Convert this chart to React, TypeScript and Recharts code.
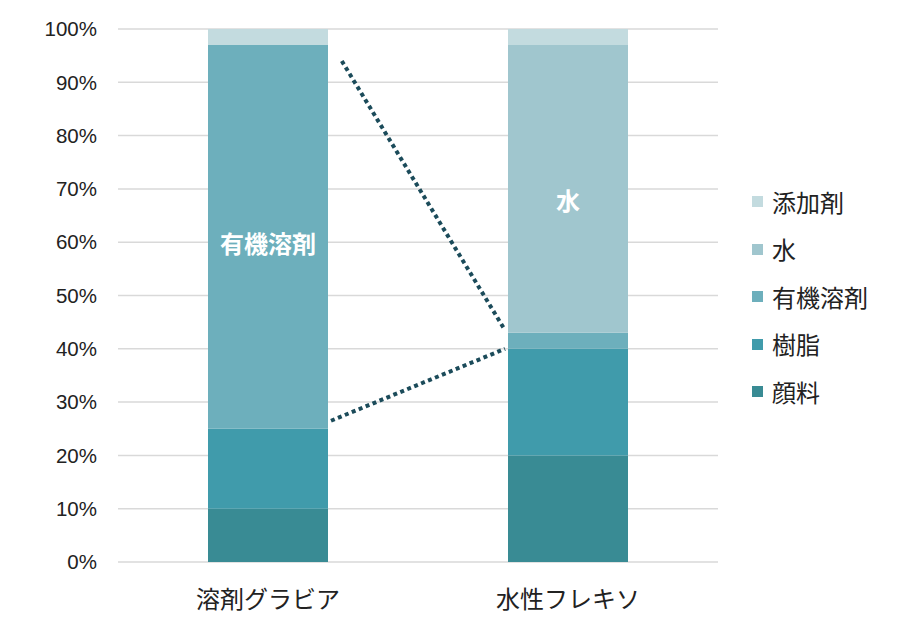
import React from 'react';
import { BarChart, Bar, XAxis, YAxis, CartesianGrid, ReferenceLine, LabelList } from 'recharts';

const categories = ['溶剤グラビア', '水性フレキソ'];
const pigment = [10, 20];
const resin = [15, 20];
const solvent = [72, 3];
const water = [0, 54];
const additive = [3, 3];
const solventLabels = ['有機溶剤', ''];
const waterLabels = ['', '水'];
const yTicks = [0, 10, 20, 30, 40, 50, 60, 70, 80, 90, 100];

const seriesNames = ['顔料', '樹脂', '有機溶剤', '水', '添加剤'];
const seriesKeys = ['pigment', 'resin', 'solvent', 'water', 'additive'];
const seriesColors = ['#398B94', '#409BAB', '#6DAFBC', '#A0C6CE', '#C3DBDF'];

// annotation guide lines (x as fraction of the category axis, y in %)
const guideA = [{ x: 0.373, y: 94 }, { x: 0.645, y: 43.5 }];
const guideB = [{ x: 0.355, y: 26.5 }, { x: 0.645, y: 40 }];

const data = categories.map((c, i) => ({
  name: c,
  pigment: pigment[i],
  resin: resin[i],
  solvent: solvent[i],
  water: water[i],
  additive: additive[i],
  solventLabel: solventLabels[i],
  waterLabel: waterLabels[i],
}));

const inBarLabel = (dyOff: number) => (props: any) => {
  const { x, y, width, height, value } = props;
  if (!value) return null;
  return (
    <text
      x={Number(x) + Number(width) / 2}
      y={Number(y) + Number(height) / 2 + dyOff}
      textAnchor="middle"
      dominantBaseline="central"
      fill="#ffffff"
      fontWeight="bold"
      fontSize={24}
      fontFamily="'Noto Sans CJK JP', sans-serif"
    >
      {value}
    </text>
  );
};

const LegendBox = () => {
  const items = seriesNames.map((n, i) => ({ n, c: seriesColors[i] })).reverse();
  return (
    <div style={{ position: 'absolute', left: 752, top: 178, fontFamily: "'Noto Sans CJK JP', sans-serif" }}>
      {items.map((it) => (
        <div key={it.n} style={{ display: 'flex', alignItems: 'center', height: 47.5 }}>
          <div style={{ width: 11, height: 11, background: it.c, marginRight: 9 }} />
          <span style={{ fontSize: 24, color: '#222', lineHeight: '30px' }}>{it.n}</span>
        </div>
      ))}
    </div>
  );
};

export default function App() {
  return (
    <div style={{ position: 'absolute', left: 0, top: 0, width: 900, height: 637, background: '#fff' }}>
      <BarChart
        width={900}
        height={637}
        data={data}
        margin={{ top: 29, right: 182, bottom: 0, left: 18 }}
        barSize={120}
      >
        <CartesianGrid vertical={false} stroke="#D9D9D9" strokeWidth={1.5} />
        <XAxis
          dataKey="name"
          axisLine={false}
          tickLine={false}
          tickSize={0}
          tickMargin={29}
          height={75}
          tick={{ fontSize: 24, fill: '#222', fontFamily: "'Noto Sans CJK JP', sans-serif" }}
        />
        <XAxis xAxisId="n" type="number" domain={[0, 1]} allowDataOverflow hide height={0} />
        <YAxis
          domain={[0, 100]}
          ticks={yTicks}
          tickFormatter={(v) => `${v}%`}
          axisLine={false}
          tickLine={false}
          tickSize={0}
          tickMargin={21}
          width={100}
          tick={{ fontSize: 20.5, fill: '#222', fontFamily: "'Liberation Sans', Arial, sans-serif" }}
        />
        {seriesKeys.map((k, i) => (
          <Bar key={k} dataKey={k} name={seriesNames[i]} stackId="a" fill={seriesColors[i]} isAnimationActive={false}>
            {k === 'solvent' && <LabelList dataKey="solventLabel" content={inBarLabel(6)} />}
            {k === 'water' && <LabelList dataKey="waterLabel" content={inBarLabel(11)} />}
          </Bar>
        ))}
        <ReferenceLine
          xAxisId="n"
          segment={guideA}
          stroke="#1B4B5A"
          strokeWidth={4}
          strokeDasharray="4 3.5"
          ifOverflow="visible"
        />
        <ReferenceLine
          xAxisId="n"
          segment={guideB}
          stroke="#1B4B5A"
          strokeWidth={4}
          strokeDasharray="4 3.5"
          ifOverflow="visible"
        />
      </BarChart>
      <LegendBox />
    </div>
  );
}
